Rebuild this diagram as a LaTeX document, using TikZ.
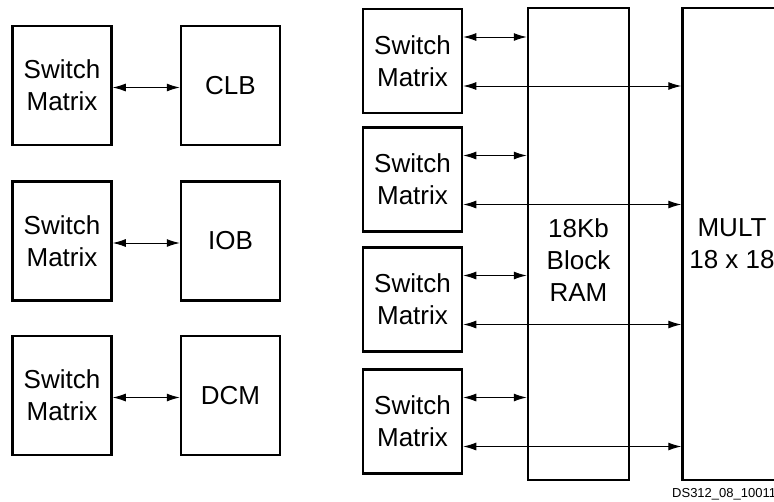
\documentclass[tikz,border=0pt]{standalone}
\usepackage{fontspec}
\setmainfont{Liberation Sans}
\usetikzlibrary{arrows.meta}

\tikzset{
  blk/.style={draw,line width=2.5pt,minimum width=99pt,inner sep=0pt,align=center,
    font=\fontsize{26}{32}\selectfont},
  lsm/.style={blk,minimum height=119pt},
  rsm/.style={blk,minimum height=104pt},
  biarrow/.style={line width=1pt,{Latex[length=13pt,width=8pt]}-{Latex[length=13pt,width=8pt]}}
}

\begin{document}
\begin{tikzpicture}[x=1pt,y=-1pt]
  \useasboundingbox (0,0) rectangle (774,501);
  % left column
  \node[lsm] (lsw1) at (62,85.5) {Switch\\Matrix};
  \node[lsm] (clb) at (230.5,85.5) {CLB};
  \node[lsm] (lsw2) at (62,241) {Switch\\Matrix};
  \node[lsm] (iob) at (230.5,241) {IOB};
  \node[lsm] (lsw3) at (62,395.5) {Switch\\Matrix};
  \node[lsm] (dcm) at (230.5,395.5) {DCM};
  \draw[biarrow] ([yshift=-2pt]lsw1.east) -- ([yshift=-2pt]clb.west);
  \draw[biarrow] ([yshift=-2pt]lsw2.east) -- ([yshift=-2pt]iob.west);
  \draw[biarrow] ([yshift=-2pt]lsw3.east) -- ([yshift=-2pt]dcm.west);
  % right column
  \node[rsm] (rsw1) at (412.5,61) {Switch\\Matrix};
  \node[rsm] (rsw2) at (412.5,179.5) {Switch\\Matrix};
  \node[rsm] (rsw3) at (412.5,299.5) {Switch\\Matrix};
  \node[rsm] (rsw4) at (412.5,421.5) {Switch\\Matrix};
  \node[blk,minimum width=101pt,minimum height=472pt] (ram) at (578.5,244) {};
  \node[align=center,font=\fontsize{26}{32}\selectfont] (ramlbl) at (578.5,260) {18Kb\\Block\\RAM};
  \node[blk,minimum height=472pt] (mult) at (732,244) {MULT\\18 x 18};
  \foreach \i in {1,...,4} {
    \draw[biarrow] ([yshift=24pt]rsw\i.east) -- ([yshift=24pt]rsw\i.east -| ram.west);
    \draw[biarrow] ([yshift=-25pt]rsw\i.east) -- ([yshift=-25pt]rsw\i.east -| mult.west);
  }
  \node[anchor=base west,inner sep=0pt,font=\fontsize{13}{15}\selectfont] (figid) at (672,497) {DS312\_08\_10011};
\end{tikzpicture}
\end{document}
